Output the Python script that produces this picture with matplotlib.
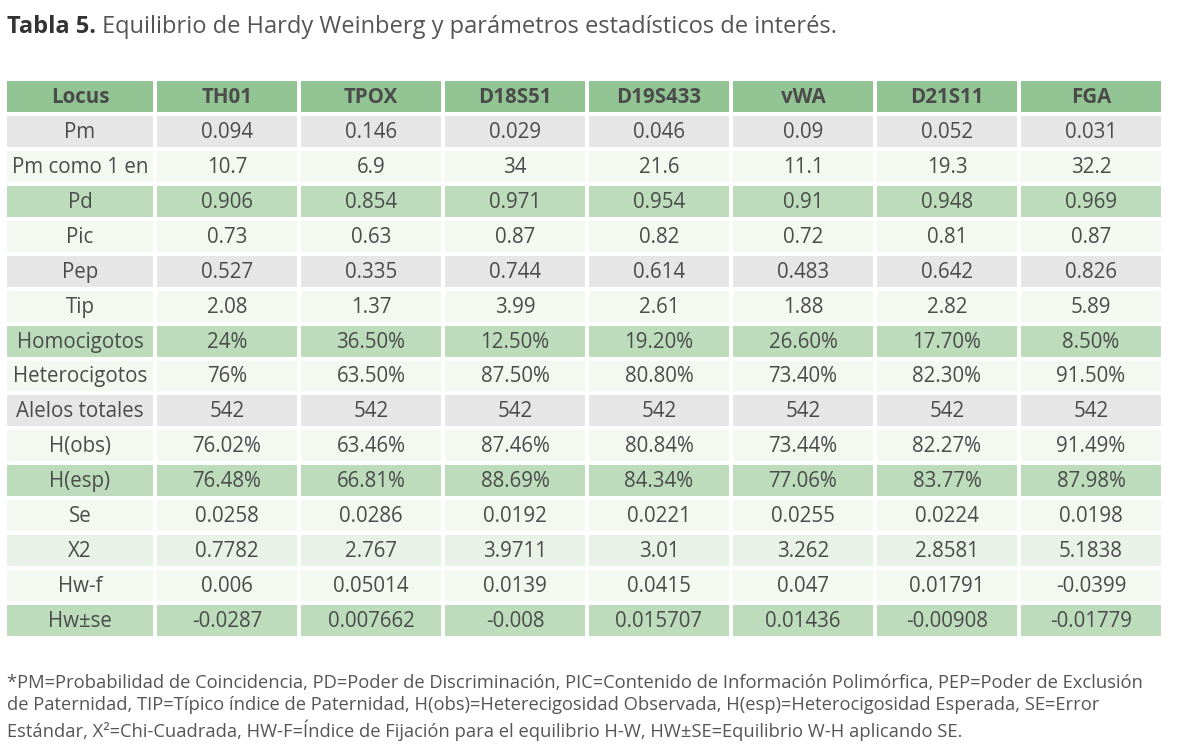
import matplotlib.pyplot as plt
from matplotlib.patches import Rectangle

plt.rcParams['font.family'] = ['Open Sans', 'DejaVu Sans']

loci = ["TH01", "TPOX", "D18S51", "D19S433", "vWA", "D21S11", "FGA"]
row_names = ["Pm", "Pm como 1 en", "Pd", "Pic", "Pep", "Tip", "Homocigotos",
             "Heterocigotos", "Alelos totales", "H(obs)", "H(esp)", "Se",
             "X2", "Hw-f", "Hw±se"]
values = [
    ["0.094", "0.146", "0.029", "0.046", "0.09", "0.052", "0.031"],
    ["10.7", "6.9", "34", "21.6", "11.1", "19.3", "32.2"],
    ["0.906", "0.854", "0.971", "0.954", "0.91", "0.948", "0.969"],
    ["0.73", "0.63", "0.87", "0.82", "0.72", "0.81", "0.87"],
    ["0.527", "0.335", "0.744", "0.614", "0.483", "0.642", "0.826"],
    ["2.08", "1.37", "3.99", "2.61", "1.88", "2.82", "5.89"],
    ["24%", "36.50%", "12.50%", "19.20%", "26.60%", "17.70%", "8.50%"],
    ["76%", "63.50%", "87.50%", "80.80%", "73.40%", "82.30%", "91.50%"],
    ["542", "542", "542", "542", "542", "542", "542"],
    ["76.02%", "63.46%", "87.46%", "80.84%", "73.44%", "82.27%", "91.49%"],
    ["76.48%", "66.81%", "88.69%", "84.34%", "77.06%", "83.77%", "87.98%"],
    ["0.0258", "0.0286", "0.0192", "0.0221", "0.0255", "0.0224", "0.0198"],
    ["0.7782", "2.767", "3.9711", "3.01", "3.262", "2.8581", "5.1838"],
    ["0.006", "0.05014", "0.0139", "0.0415", "0.047", "0.01791", "-0.0399"],
    ["-0.0287", "0.007662", "-0.008", "0.015707", "0.01436", "-0.00908", "-0.01779"],
]
# fill style per row
row_style = ["gray", "light", "green", "light", "gray", "light", "green",
             "light", "gray", "light", "green", "light", "mint", "light", "green"]

colors = {"gray": "#e6e6e6", "light": "#f3f8f1", "green": "#bcdcbc",
          "mint": "#e8f2e6", "header": "#93c594"}

title_bold = "Tabla 5."
title_rest = " Equilibrio de Hardy Weinberg y parámetros estadísticos de interés."
footnote = ("*PM=Probabilidad de Coincidencia, PD=Poder de Discriminación, PIC=Contenido de Información Polimórfica, PEP=Poder de Exclusión\n"
            "de Paternidad, TIP=Típico índice de Paternidad, H(obs)=Heterecigosidad Observada, H(esp)=Heterocigosidad Esperada, SE=Error\n"
            "Estándar, X²=Chi-Cuadrada, HW-F=Índice de Fijación para el equilibrio H-W, HW±SE=Equilibrio W-H aplicando SE.")

W, H = 1183, 751
fig = plt.figure(figsize=(W / 100, H / 100), dpi=100)
ax = fig.add_axes([0, 0, 1, 1])
ax.set_xlim(0, W)
ax.set_ylim(H, 0)
ax.axis("off")

# table frame in pixels
x0, y0, y1 = 7, 81, 636
gap = 4
col_w = [146] + [140] * len(loci)
nrow = len(row_names) + 1
rh = (y1 - y0 + gap) / nrow

txt_col = "#4b4b4b"
header = ["Locus"] + loci
for r in range(nrow):
    if r == 0:
        cells, fc, weight = header, colors["header"], "bold"
    else:
        cells = [row_names[r - 1]] + values[r - 1]
        fc, weight = colors[row_style[r - 1]], "normal"
    x = x0
    y = y0 + r * rh
    for c, label in enumerate(cells):
        w = col_w[c]
        ax.add_patch(Rectangle((x, y), w, rh - gap, facecolor=fc,
                               edgecolor="none"))
        ax.text(x + w / 2, y + (rh - gap) / 2 + 1, label,
                ha="center", va="center", fontsize=14.8, color=txt_col,
                fontweight=weight)
        x += w + gap

t1 = ax.text(7, 27, title_bold, fontsize=17, fontweight="bold",
             color="#333333", va="center", ha="left")
fig.canvas.draw()
bb = t1.get_window_extent()
inv = ax.transData.inverted()
xr = inv.transform((bb.x1, bb.y0))[0]
ax.text(xr, 27, title_rest, fontsize=17, color="#555555", va="center",
        ha="left")

ax.text(7, 674, footnote, fontsize=13.2, color="#555555", va="top", ha="left",
        linespacing=1.3)

fig.savefig("out.png", dpi=100, facecolor="white")
